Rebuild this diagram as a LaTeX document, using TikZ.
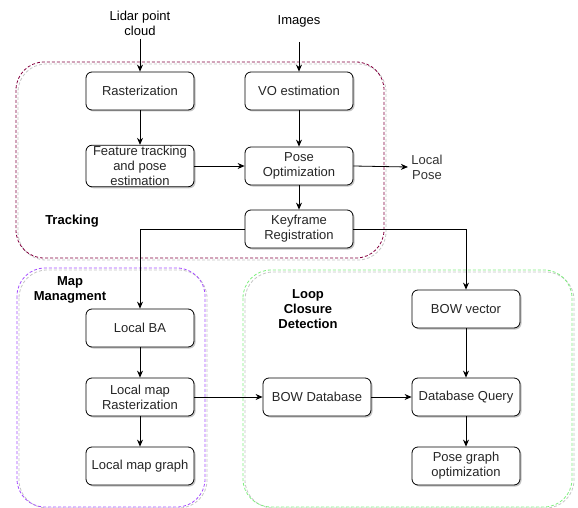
\documentclass[tikz,border=0pt]{standalone}
\usepackage{fontspec}
\setmainfont{Liberation Sans}
\usetikzlibrary{arrows.meta,shadows}
\definecolor{trk}{HTML}{850040}
\definecolor{mapc}{HTML}{A64DFF}
\definecolor{loopc}{HTML}{80F080}
\tikzset{
  box/.style={draw=black, line width=0.8pt, rounded corners=6pt, fill=white,
    minimum width=108pt, minimum height=38pt, align=center, inner sep=1pt,
    font=\fontsize{13}{15}\selectfont, text=black!85,
    drop shadow={shadow xshift=1.5pt, shadow yshift=-1.5pt, opacity=0.45, fill=gray}},
  plain/.style={align=center, font=\fontsize{13}{15}\selectfont, text=black!80},
  title/.style={align=center, font=\bfseries\fontsize{13}{15}\selectfont},
  arr/.style={-{Stealth[length=7pt,width=6pt]}, line width=0.8pt},
  cont/.style={dashed, dash pattern=on 3pt off 2pt, line width=0.8pt, rounded corners=28pt},
  contsh/.style={cont, draw=gray!45}
}
\begin{document}
\begin{tikzpicture}[x=1pt,y=-1pt]
\useasboundingbox[fill=white] (0,0) rectangle (578,508);
% containers
\draw[contsh] (18,64) rectangle (386,260);
\draw[cont, draw=trk] (16,62) rectangle (384,258);
\draw[contsh] (19,270) rectangle (207,508);
\draw[cont, draw=mapc] (17,268) rectangle (205,507);
\draw[contsh] (245,272) rectangle (574,508);
\draw[cont, draw=loopc] (243,270) rectangle (572,507);

% labels
\node[plain, text=black] (lidar) at (140,23) {Lidar point\\cloud};
\node[plain, text=black] (images) at (299,21) {Images};
\node[title] (tracking) at (72,221) {Tracking};
\node[title] (mapm) at (70,290) {Map\\Managment};
\node[title] (loopt) at (308,309) {Loop\\Closure\\Detection};
\node[plain] (lpose) at (427,167) {Local\\Pose};

% boxes
\node[box] (rast) at (140,91) {Rasterization};
\node[box] (vo) at (299,91) {VO estimation};
\node[box] (feat) at (140,166) {Feature tracking\\and pose\\estimation};
\node[box] (popt) at (299,166) {Pose\\Optimization};
\node[box] (kf) at (299,229) {Keyframe\\Registration};
\node[box] (lba) at (140,328) {Local BA};
\node[box] (lmr) at (140,397) {Local map\\Rasterization};
\node[box] (lmg) at (140,466) {Local map graph};
\node[box] (bowv) at (466,309) {BOW vector};
\node[box] (bowd) at (317,397) {BOW Database};
\node[box] (dbq) at (466,397) {Database Query};
\node[box] (pgo) at (466,466) {Pose graph\\optimization};

% connectors
\draw[arr] (lidar.south) -- (rast.north);
\draw[arr] (299,42) -- (vo.north);
\draw[arr] (rast) -- (feat);
\draw[arr] (vo) -- (popt);
\draw[arr] (feat) -- (popt);
\draw[arr] (popt.east) -- (lpose.west);
\draw[arr] (popt) -- (kf);
\draw[arr] (kf.west) -| (lba.north);
\draw[arr] (kf.east) -| (bowv.north);
\draw[arr] (lba) -- (lmr);
\draw[arr] (lmr) -- (lmg);
\draw[arr] (lmr) -- (bowd);
\draw[arr] (bowd) -- (dbq);
\draw[arr] (bowv) -- (dbq);
\draw[arr] (dbq) -- (pgo);
\end{tikzpicture}
\end{document}
